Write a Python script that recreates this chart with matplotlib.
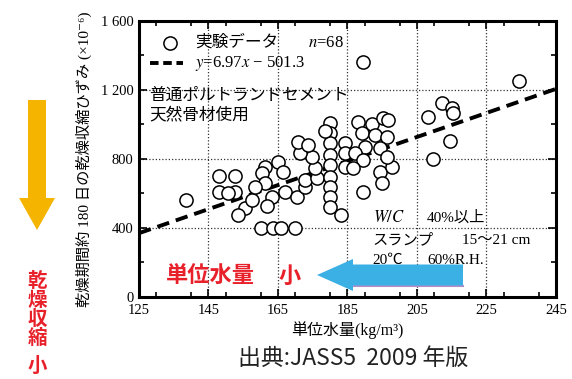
import matplotlib
matplotlib.use("Agg")
import matplotlib.pyplot as plt
from matplotlib.patches import FancyArrow
from matplotlib.ticker import MultipleLocator, FixedLocator
import numpy as np

plt.rcParams["font.family"] = ["Liberation Serif", "Noto Sans CJK JP", "DejaVu Serif"]
plt.rcParams["mathtext.fontset"] = "stix"

# 単位水量 (kg/m3) と 乾燥収縮ひずみ (x10^-6)
water = [138.5, 148, 152.5, 148, 152.5, 150.5, 155.5, 153.5, 157.5,
         160, 163.5, 166, 170, 161.3, 160.5, 161.3, 163.3, 161.8,
         165, 166.4, 167, 170.5, 172.8, 172.8, 176.2, 175.6, 174.8, 171.3,
         170.8, 173.6, 180, 180, 180, 180, 180, 180, 180, 180, 180,
         183, 184.3, 184.3, 184.3, 188, 192, 195.2, 189.2, 193, 196.4,
         190, 194.4, 187.2, 189.5, 186.6, 194.4, 197.8, 195, 189.5,
         196.7, 196.4, 178.5, 189.5, 234.5, 212.2, 215, 215.5, 208.2,
         214.5, 209.6, 158.5]
shrink = [560, 700, 700, 610, 610, 605, 515, 475, 560,
          400, 400, 400, 400, 755, 720, 660, 580, 530,
          780, 725, 610, 580, 635, 680, 690, 750, 812, 835,
          900, 880, 1010, 950, 895, 825, 765, 695, 640, 580, 520,
          475, 895, 835, 755, 1015, 1000, 1040, 950, 940, 925,
          870, 865, 835, 795, 750, 725, 755, 660, 610,
          1025, 810, 960, 1365, 1250, 1125, 1095, 1065, 1045,
          905, 800, 640]

slope, intercept = 6.97, -501.3
n_samples = 68

xticks = [125, 145, 165, 185, 205, 225, 245]
yticks = [0, 400, 800, 1200, 1600]
ytick_labels = ["0", "400", "800", "1 200", "1 600"]

fig = plt.figure(figsize=(5.72, 3.79), dpi=100)
ax = fig.add_axes([0.243, 0.2164, 0.729, 0.7282])

# 回帰直線
xl = np.array([125, 245])
ax.plot(xl, slope * xl + intercept, color="black", lw=2.8,
        dashes=(3.2, 1.8), zorder=3)
ax.scatter(water, shrink, s=90, facecolor="white", edgecolor="black",
           linewidth=1.1, zorder=4)

ax.set_xlim(125, 245)
ax.set_ylim(0, 1600)
ax.xaxis.set_major_locator(FixedLocator(xticks))
ax.xaxis.set_minor_locator(MultipleLocator(10))
ax.yaxis.set_major_locator(FixedLocator(yticks))
ax.yaxis.set_minor_locator(MultipleLocator(200))
ax.set_yticklabels(ytick_labels)
ax.tick_params(which="both", direction="in", top=True, right=True,
               labelsize=10.5, width=1.2)
ax.tick_params(axis="x", pad=5)
ax.tick_params(axis="y", pad=4)
ax.tick_params(which="major", length=6)
ax.tick_params(which="minor", length=3.5)
for s in ax.spines.values():
    s.set_linewidth(2.2)
ax.grid(True, which="major", color="#333333", lw=0.9, ls=(0, (1, 1.6)))

ax.set_xlabel("単位水量(kg/m³)", fontsize=11.5, labelpad=3)
ax.set_ylabel("乾燥期間約 180 日の乾燥収縮ひずみ (×10⁻⁶)",
              fontsize=11, labelpad=6)

# 凡例
ax.scatter([133.9], [1472], s=90, facecolor="white", edgecolor="black",
           linewidth=1.1, zorder=5)
ax.plot([128.2, 137.7], [1356, 1356], color="black", lw=2.8, dashes=(2.2, 1.2))
ax.text(141.2, 1472, "実験データ", fontsize=12, va="center")
ax.text(173.5, 1472, f"$n$={n_samples}", fontsize=12, va="center")
ax.text(141.2, 1356, f"$y$=6.97$x$ − {-intercept}", fontsize=12,
        va="center")

ax.text(128, 1110, "普通ポルトランドセメント\n天然骨材使用", fontsize=12,
        va="center", linespacing=1.3)

ax.text(192.3, 458, "$W/C$", fontsize=12, va="center")
ax.text(207.9, 458, "40%以上", fontsize=11, va="center")
ax.text(192.3, 330, "スランプ", fontsize=11, va="center")
ax.text(218, 330, "15～21 cm", fontsize=11, va="center")
ax.text(192.3, 214, "20℃", fontsize=11, va="center")
ax.text(207.9, 214, "60%R.H.", fontsize=11, va="center")

# 注釈用の重ね合わせ (ピクセル座標)
ov = fig.add_axes([0, 0, 1, 1])
ov.set_xlim(0, 572)
ov.set_ylim(379, 0)
ov.axis("off")

ov.add_patch(FancyArrow(37, 100, 0, 130, width=18, head_width=36,
                        head_length=32, length_includes_head=True,
                        color="#F5B400", lw=0))
ov.text(37, 310, "乾\n燥\n収\n縮", color="#E8202A", fontsize=14,
        fontweight="bold", ha="center", va="center", linespacing=1.02,
        family=["Noto Sans CJK JP"])
ov.text(37, 366, "小", color="#E8202A", fontsize=14, fontweight="bold",
        ha="center", va="center", family=["Noto Sans CJK JP"])

ov.add_patch(FancyArrow(463, 275, -146, 0, width=21, head_width=32,
                        head_length=36, length_includes_head=True,
                        color="#3AB0E4", lw=0, zorder=5))
ov.plot([352, 463], [286, 286], color="#B58CCB", lw=1.5, zorder=4)
ov.text(166, 276, "単位水量", color="#E8202A", fontsize=16,
        fontweight="bold", va="center", family=["Noto Sans CJK JP"])
ov.text(279, 276, "小", color="#E8202A", fontsize=16, fontweight="bold",
        va="center", family=["Noto Sans CJK JP"])

ov.text(353, 358, "出典:JASS5  2009 年版", fontsize=16.5, ha="center",
        va="center", color="#222222", family=["Noto Sans CJK JP"])

fig.savefig("out.png", dpi=100)
